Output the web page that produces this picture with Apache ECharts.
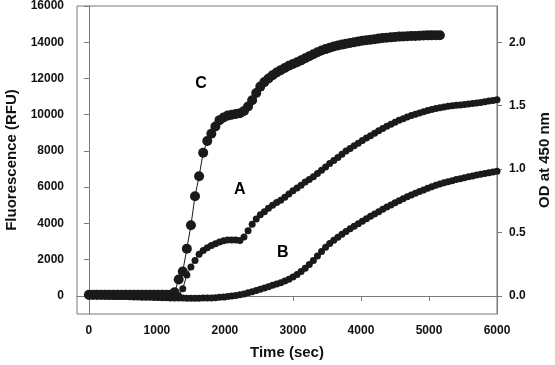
<!DOCTYPE html>
<html>
<head>
<meta charset="utf-8" />
<script src="https://cdn.jsdelivr.net/npm/echarts@6/dist/echarts.min.js"></script>
<style>
  html, body { margin: 0; padding: 0; background: #fff; }
  #chart { width: 555px; height: 365px; }
</style>
</head>
<body>
<div id="chart"></div>
<script>
// time points (sec), one reading per minute
const timeSec = [
  0, 60, 120, 180, 240, 300, 360, 420, 480, 540,
  600, 660, 720, 780, 840, 900, 960, 1020, 1080, 1140,
  1200, 1260, 1320, 1380, 1440, 1500, 1560, 1620, 1680, 1740,
  1800, 1860, 1920, 1980, 2040, 2100, 2160, 2220, 2280, 2340,
  2400, 2460, 2520, 2580, 2640, 2700, 2760, 2820, 2880, 2940,
  3000, 3060, 3120, 3180, 3240, 3300, 3360, 3420, 3480, 3540,
  3600, 3660, 3720, 3780, 3840, 3900, 3960, 4020, 4080, 4140,
  4200, 4260, 4320, 4380, 4440, 4500, 4560, 4620, 4680, 4740,
  4800, 4860, 4920, 4980, 5040, 5100, 5160, 5220, 5280, 5340,
  5400, 5460, 5520, 5580, 5640, 5700, 5760, 5820, 5880, 5940,
  6000
];

// fluorescence (RFU)
const curveA = [
  0, 0, 0, 0, 0, 0, 0, 0, 0, 0,
  0, 0, 0, 0, 0, 0, 0, 0, 0, 0,
  0, 0, 0, 400, 1150, 1600, 1950, 2300, 2500, 2650,
  2780, 2880, 2980, 3040, 3080, 3090, 3080, 3060, 3250, 3600,
  3950, 4250, 4480, 4650, 4830, 5000, 5150, 5280, 5450, 5620,
  5800, 5950, 6110, 6280, 6420, 6580, 6760, 6930, 7120, 7300,
  7470, 7640, 7820, 8000, 8140, 8280, 8430, 8570, 8710, 8840,
  8980, 9110, 9240, 9360, 9480, 9590, 9690, 9780, 9870, 9950,
  10030, 10100, 10170, 10230, 10290, 10340, 10390, 10430, 10470, 10500,
  10520, 10540, 10560, 10590, 10620, 10650, 10680, 10710, 10750, 10790,
  10830
];

const curveB = [
  0, 0, -10, -10, -20, -20, -30, -30, -40, -40,
  -50, -60, -60, -70, -80, -80, -90, -90, -100, -100,
  -110, -110, -120, -120, -130, -130, -130, -130, -120, -120,
  -110, -100, -80, -60, -40, -10, 20, 60, 110, 170,
  230, 300, 370, 440, 510, 580, 650, 730, 820, 920,
  1040, 1180, 1340, 1520, 1730, 1950, 2200, 2450, 2680, 2890,
  3070, 3240, 3400, 3550, 3700, 3840, 3980, 4120, 4260, 4390,
  4520, 4650, 4780, 4900, 5020, 5140, 5250, 5360, 5470, 5570,
  5670, 5760, 5850, 5940, 6020, 6100, 6170, 6240, 6300, 6360,
  6420, 6470, 6520, 6570, 6620, 6670, 6720, 6760, 6800, 6840,
  6880
];

// C stops at 5160 sec
const curveC = [
  60, 60, 60, 60, 60, 60, 60, 60, 60, 60,
  60, 60, 60, 60, 60, 60, 60, 60, 60, 60,
  60, 200, 900, 1350, 2600, 3900, 5500, 6600, 7900, 8550,
  8950, 9350, 9700, 9850, 9950, 10000, 10040, 10080, 10200, 10450,
  10800, 11200, 11550, 11800, 12000, 12180, 12330, 12460, 12580, 12700,
  12800, 12900, 13000, 13120, 13230, 13340, 13450, 13540, 13620, 13700,
  13760, 13820, 13870, 13920, 13960, 14000, 14040, 14080, 14110, 14140,
  14170, 14200, 14230, 14250, 14270, 14290, 14310, 14320, 14330, 14340,
  14350, 14360, 14370, 14380, 14380, 14390, 14390
];

const xTicks = [0, 1000, 2000, 3000, 4000, 5000, 6000];
const rfuTicks = [0, 2000, 4000, 6000, 8000, 10000, 12000, 14000, 16000];
const odTicks = [0, 0.5, 1.0, 1.5, 2.0];

// curve letters: [name, time, RFU]
const curveLabels = [
  ["C", 1650, 11700],
  ["A", 2220, 5850],
  ["B", 2850, 2380],
];

// OD 2.0 lines up with 14000 RFU
const RFU_PER_OD = 7000;
const RFU_MIN = -1000;
const RFU_MAX = 16000;

const font = "Liberation Sans, Arial, sans-serif";
const axisGray = "#7a7a7a";
const ink = "#1a1a1a";

function pairs(vals) {
  return vals.map((v, i) => [timeSec[i], v]);
}

function letter(name) {
  const l = curveLabels.find((d) => d[0] === name);
  return {
    symbol: "circle",
    symbolSize: 0,
    silent: true,
    data: [{ coord: [l[1], l[2]] }],
    label: {
      show: true,
      position: "inside",
      formatter: name,
      color: "#000",
      fontFamily: font,
      fontWeight: "bold",
      fontSize: 16,
    },
  };
}

function curve(name, vals, size) {
  return {
    name: name,
    type: "line",
    data: pairs(vals),
    symbol: "circle",
    symbolSize: size,
    showSymbol: true,
    lineStyle: { color: ink, width: 1 },
    itemStyle: { color: ink },
    markPoint: letter(name),
    z: 3,
  };
}

const myChart = echarts.init(document.getElementById("chart"), null, {
  renderer: "canvas",
});

const tickLabel = {
  color: "#111",
  fontFamily: font,
  fontWeight: "bold",
  fontSize: 12,
};
const nameStyle = {
  color: "#111",
  fontFamily: font,
  fontWeight: "bold",
  fontSize: 15,
};

const option = {
  animation: false,
  backgroundColor: "#fff",
  grid: {
    left: 77,
    right: 58,
    top: 6,
    bottom: 51,
    outerBoundsMode: "none",
    containLabel: false,
    show: true,
    borderColor: axisGray,
    borderWidth: 1,
  },
  xAxis: {
    type: "value",
    min: -175,
    max: 6000,
    name: "Time (sec)",
    nameLocation: "middle",
    nameGap: 31,
    nameTextStyle: nameStyle,
    axisLine: { show: true, lineStyle: { color: axisGray } },
    axisTick: {
      show: true,
      length: 5,
      customValues: xTicks,
      lineStyle: { color: axisGray },
    },
    axisLabel: Object.assign(
      { customValues: xTicks, margin: 11, formatter: (v) => String(v) },
      tickLabel
    ),
    splitLine: { show: false },
  },
  yAxis: [
    {
      type: "value",
      position: "left",
      min: RFU_MIN,
      max: RFU_MAX,
      name: "Fluorescence (RFU)",
      nameLocation: "middle",
      nameRotate: 90,
      nameGap: 50,
      nameTextStyle: nameStyle,
      axisLine: { show: true, lineStyle: { color: axisGray } },
      axisTick: {
        show: true,
        length: 5,
        customValues: rfuTicks,
        lineStyle: { color: axisGray },
      },
      axisLabel: Object.assign(
        { customValues: rfuTicks, margin: 13, formatter: (v) => String(v) },
        tickLabel
      ),
      splitLine: { show: false },
    },
    {
      type: "value",
      position: "right",
      min: RFU_MIN / RFU_PER_OD,
      max: RFU_MAX / RFU_PER_OD,
      name: "OD at 450 nm",
      nameLocation: "middle",
      nameRotate: 90,
      nameGap: 40,
      nameTextStyle: nameStyle,
      axisLine: { show: true, lineStyle: { color: axisGray } },
      axisTick: {
        show: true,
        length: 5,
        customValues: odTicks,
        lineStyle: { color: axisGray },
      },
      axisLabel: Object.assign(
        {
          customValues: odTicks,
          margin: 12,
          formatter: (v) => v.toFixed(1),
        },
        tickLabel
      ),
      splitLine: { show: false },
    },
  ],
  series: [
    curve("B", curveB, 7),
    curve("A", curveA, 7),
    curve("C", curveC, 10),
  ],
};

myChart.setOption(option, true);
</script>
</body>
</html>
